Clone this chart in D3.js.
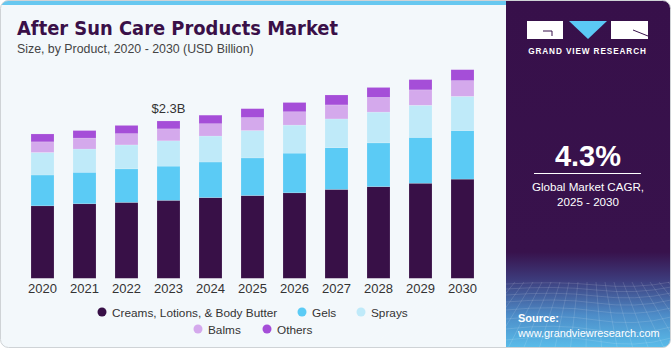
<!DOCTYPE html>
<html>
<head>
<meta charset="utf-8">
<script src="https://cdn.jsdelivr.net/npm/d3@7"></script>
<style>
  html, body { margin: 0; padding: 0; background: #fff; }
  svg { display: block; font-family: "Liberation Sans", Arial, sans-serif; }
</style>
</head>
<body>
<svg id="chart"></svg>
<script>
// data (USD Billion)
const years = ["2020", "2021", "2022", "2023", "2024", "2025", "2026", "2027", "2028", "2029", "2030"];
const seriesNames = ["Creams, Lotions, & Body Butter", "Gels", "Sprays", "Balms", "Others"];
const creams = [1.06, 1.09, 1.11, 1.14, 1.18, 1.21, 1.25, 1.30, 1.34, 1.39, 1.45];
const gels   = [0.45, 0.46, 0.49, 0.50, 0.52, 0.55, 0.58, 0.61, 0.64, 0.67, 0.71];
const sprays = [0.33, 0.34, 0.35, 0.37, 0.38, 0.40, 0.41, 0.42, 0.45, 0.47, 0.50];
const balms  = [0.155, 0.16, 0.165, 0.175, 0.18, 0.19, 0.195, 0.205, 0.215, 0.225, 0.23];
const others = [0.115, 0.11, 0.12, 0.115, 0.125, 0.13, 0.135, 0.145, 0.145, 0.15, 0.16];
const colors = ["#381047", "#5bcbf5", "#bfeaf9", "#d4a9ec", "#a54ed8"];

const width = 671;
const height = 350;
const panelX = 506;

const svg = d3.select("#chart")
  .attr("width", width)
  .attr("height", height);

const defs = svg.append("defs");
const grad = defs.append("linearGradient")
  .attr("id", "panelGrad")
  .attr("x1", 0).attr("y1", 0).attr("x2", 0).attr("y2", 1);
grad.append("stop").attr("offset", "0%").attr("stop-color", "#37104a");
grad.append("stop").attr("offset", "72%").attr("stop-color", "#38124c");
grad.append("stop").attr("offset", "80%").attr("stop-color", "#3d3c7c");
grad.append("stop").attr("offset", "90%").attr("stop-color", "#4d8cc8");
grad.append("stop").attr("offset", "100%").attr("stop-color", "#5ac0ec");

defs.append("clipPath").attr("id", "cardClip")
  .append("rect")
  .attr("x", 0.5).attr("y", 0.5)
  .attr("width", width - 1).attr("height", height - 3)
  .attr("rx", 8);

// card
const card = svg.append("g").attr("clip-path", "url(#cardClip)");
card.append("rect")
  .attr("x", 0).attr("y", 0)
  .attr("width", width).attr("height", height)
  .attr("fill", "#f3f8fb");
card.append("rect")
  .attr("x", 0).attr("y", 0)
  .attr("width", panelX).attr("height", 5)
  .attr("fill", "#67c8f0");
card.append("rect")
  .attr("x", panelX).attr("y", 0)
  .attr("width", width - panelX).attr("height", height)
  .attr("fill", "url(#panelGrad)");

// mesh at the bottom of the side panel
const mesh = card.append("g")
  .attr("stroke", "#ffffff")
  .attr("stroke-opacity", 0.18)
  .attr("stroke-width", 0.7)
  .attr("fill", "none");
const rowsY = [284, 289, 295, 302, 310, 319, 329, 340, 352];
rowsY.forEach((y, i) => {
  mesh.append("path")
    .attr("d", `M${panelX},${y} Q${panelX + 50},${y - 3 - i * 0.5} ${panelX + 90},${y + 1} T${width},${y - 2}`);
});
d3.range(-6, 22).forEach(i => {
  const xTop = panelX + i * 9;
  const xBot = panelX + 80 + (i - 9) * 16;
  mesh.append("line")
    .attr("x1", xTop).attr("y1", 282)
    .attr("x2", xBot).attr("y2", 352);
});

svg.append("rect")
  .attr("x", 0.5).attr("y", 0.5)
  .attr("width", width - 1).attr("height", height - 3)
  .attr("rx", 8)
  .attr("fill", "none")
  .attr("stroke", "#cfd3d6");

// titles
svg.append("text")
  .attr("x", 17).attr("y", 35)
  .attr("font-size", 19.5)
  .attr("font-weight", 900)
  .attr("fill", "#3a1048")
  .attr("textLength", 321)
  .attr("lengthAdjust", "spacingAndGlyphs")
  .style("font-family", "'DejaVu Sans', sans-serif")
  .text("After Sun Care Products Market");

svg.append("text")
  .attr("x", 17).attr("y", 53)
  .attr("font-size", 12.35)
  .attr("fill", "#444")
  .text("Size, by Product, 2020 - 2030 (USD Billion)");

// scales
const x = d3.scaleBand()
  .domain(years)
  .range([21.5, 483.5])
  .paddingInner(19 / 42)
  .paddingOuter(19 / 84);

const y = d3.scaleLinear()
  .domain([0, 3.5])
  .range([278.3, 278.3 - 3.5 * 68.4]);

const table = years.map((yr, i) => ({
  year: yr,
  [seriesNames[0]]: creams[i],
  [seriesNames[1]]: gels[i],
  [seriesNames[2]]: sprays[i],
  [seriesNames[3]]: balms[i],
  [seriesNames[4]]: others[i]
}));

const stacked = d3.stack().keys(seriesNames)(table);

svg.append("g")
  .selectAll("g")
  .data(stacked)
  .enter()
  .append("g")
  .attr("fill", (d, i) => colors[i])
  .selectAll("rect")
  .data(d => d)
  .enter()
  .append("rect")
  .attr("x", d => x(d.data.year))
  .attr("y", d => y(d[1]))
  .attr("width", x.bandwidth())
  .attr("height", d => y(d[0]) - y(d[1]))
  .attr("stroke", "#ffffff")
  .attr("stroke-opacity", 0.25)
  .attr("stroke-width", 0.6);

// x axis
const xAxis = svg.append("g")
  .attr("transform", `translate(0, ${y(0)})`)
  .call(d3.axisBottom(x).tickSize(0).tickPadding(5));
xAxis.select(".domain").remove();
xAxis.selectAll("text")
  .attr("font-size", 13)
  .attr("fill", "#333")
  .style("font-family", "'Liberation Sans', Arial, sans-serif");

// value label above 2023
const total2023 = d3.sum(stacked, s => s[3][1] - s[3][0]);
svg.append("text")
  .attr("x", x("2023") + x.bandwidth() / 2)
  .attr("y", y(total2023) - 8)
  .attr("text-anchor", "middle")
  .attr("font-size", 13)
  .attr("fill", "#333")
  .text("$" + total2023.toFixed(1) + "B");

// legend
const legendItems = [
  { name: seriesNames[0], color: colors[0], x: 102, y: 312 },
  { name: seriesNames[1], color: colors[1], x: 302, y: 312 },
  { name: seriesNames[2], color: colors[2], x: 361, y: 312 },
  { name: seriesNames[3], color: colors[3], x: 198, y: 329 },
  { name: seriesNames[4], color: colors[4], x: 267, y: 329 }
];
const legend = svg.append("g");
legendItems.forEach(d => {
  legend.append("circle")
    .attr("cx", d.x).attr("cy", d.y)
    .attr("r", 4.5)
    .attr("fill", d.color);
  legend.append("text")
    .attr("x", d.x + 10).attr("y", d.y + 4.5)
    .attr("font-size", 11.8)
    .attr("fill", "#333")
    .text(d.name);
});

// side panel content
const logo = svg.append("g");
logo.append("rect").attr("x", 527).attr("y", 21).attr("width", 36).attr("height", 18).attr("fill", "#fff");
logo.append("path").attr("d", "M543,31 H552 V36").attr("stroke", "#37104a").attr("stroke-width", 1).attr("fill", "none");
logo.append("path").attr("d", "M569,21 H607 L588,39 Z").attr("fill", "#5bc8f5");
logo.append("rect").attr("x", 611).attr("y", 21).attr("width", 37).attr("height", 18).attr("fill", "#fff");
logo.append("path").attr("d", "M633,30 L648,36").attr("stroke", "#37104a").attr("stroke-width", 1);
logo.append("text")
  .attr("x", 587.5).attr("y", 54)
  .attr("text-anchor", "middle")
  .attr("font-size", 8.2)
  .attr("font-weight", "bold")
  .attr("letter-spacing", 0.9)
  .attr("fill", "#fff")
  .text("GRAND VIEW RESEARCH");

svg.append("text")
  .attr("x", 588).attr("y", 166)
  .attr("text-anchor", "middle")
  .attr("font-size", 29)
  .attr("font-weight", "bold")
  .attr("fill", "#fff")
  .text("4.3%");
svg.append("line")
  .attr("x1", 534).attr("x2", 641)
  .attr("y1", 173.5).attr("y2", 173.5)
  .attr("stroke", "#fff")
  .attr("stroke-width", 1);
svg.append("text")
  .attr("x", 588).attr("y", 191)
  .attr("text-anchor", "middle")
  .attr("font-size", 11.6)
  .attr("fill", "#fff")
  .text("Global Market CAGR,");
svg.append("text")
  .attr("x", 588).attr("y", 206)
  .attr("text-anchor", "middle")
  .attr("font-size", 11.6)
  .attr("fill", "#fff")
  .text("2025 - 2030");

svg.append("text")
  .attr("x", 518).attr("y", 322)
  .attr("font-size", 11)
  .attr("font-weight", "bold")
  .attr("fill", "#fff")
  .text("Source:");
svg.append("text")
  .attr("x", 518).attr("y", 337)
  .attr("font-size", 10.9)
  .attr("fill", "#fff")
  .text("www.grandviewresearch.com");
</script>
</body>
</html>
